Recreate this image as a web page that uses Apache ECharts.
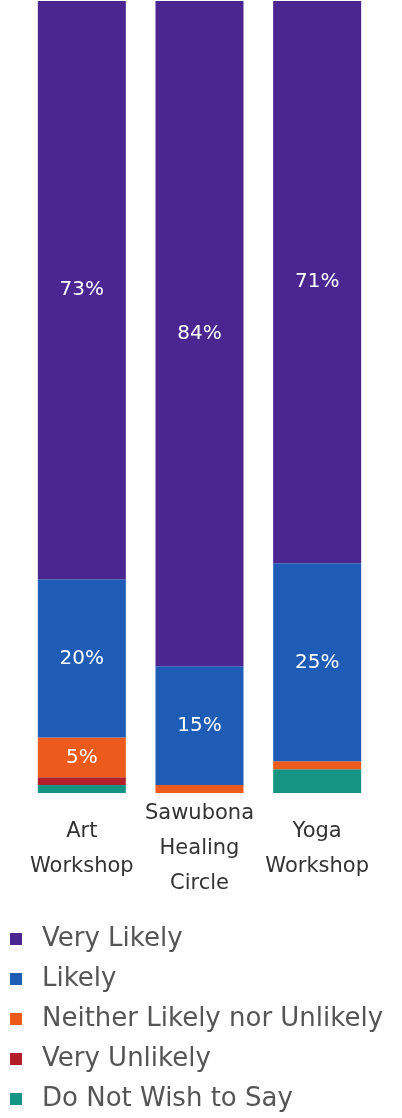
<!DOCTYPE html>
<html>
<head>
<meta charset="utf-8">
<script src="https://cdn.jsdelivr.net/npm/echarts@6/dist/echarts.min.js"></script>
<style>
  html, body { margin: 0; padding: 0; background: #ffffff; }
  #chart { width: 402px; height: 1118px; }
</style>
</head>
<body>
<div id="chart"></div>
<script>
// Workshops and share of responses (percent) per answer
const categories = ['Art\nWorkshop', 'Sawubona\nHealing\nCircle', 'Yoga\nWorkshop'];
const veryLikely = [73, 84, 71];
const likely = [20, 15, 25];
const neither = [5, 1, 1];
const veryUnlikely = [1, 0, 0];
const notSay = [1, 0, 3];

const seriesNames = ['Very Likely', 'Likely', 'Neither Likely nor Unlikely', 'Very Unlikely', 'Do Not Wish to Say'];
const seriesData = [veryLikely, likely, neither, veryUnlikely, notSay];
const colors = ['#4b2590', '#1f5cb5', '#ec5b1b', '#b21e2a', '#159484'];
const font = '"DejaVu Sans", sans-serif';

const chart = echarts.init(document.getElementById('chart'));

// Bottom answers are stacked first so the "Very Likely" segment sits on top
const order = [4, 3, 2, 1, 0];
const series = order.map(i => ({
  name: seriesNames[i],
  type: 'bar',
  stack: 'total',
  barWidth: 88,
  data: seriesData[i],
  itemStyle: { color: colors[i] },
  label: {
    show: true,
    position: 'inside',
    color: '#ffffff',
    fontFamily: font,
    fontSize: 20,
    formatter: p => (p.value >= 5 ? p.value + '%' : '')
  },
  emphasis: { disabled: true }
}));

chart.setOption({
  animation: false,
  color: colors,
  grid: { left: 23, width: 353, top: 1, bottom: 325 },
  xAxis: {
    type: 'category',
    data: categories,
    axisLine: { show: false },
    axisTick: { show: false },
    axisLabel: {
      interval: 0,
      color: '#333333',
      fontFamily: font,
      fontSize: 21,
      lineHeight: 35,
      verticalAlign: 'middle',
      margin: 56
    }
  },
  yAxis: {
    type: 'value',
    min: 0,
    max: 100,
    show: false
  },
  legend: {
    orient: 'vertical',
    left: 5,
    top: 921,
    data: seriesNames,
    icon: 'rect',
    itemWidth: 12,
    itemHeight: 12,
    itemGap: 14,
    textStyle: {
      color: '#555555',
      fontFamily: font,
      fontSize: 26,
      padding: [0, 0, 0, 15]
    }
  },
  series: series
});
</script>
</body>
</html>
